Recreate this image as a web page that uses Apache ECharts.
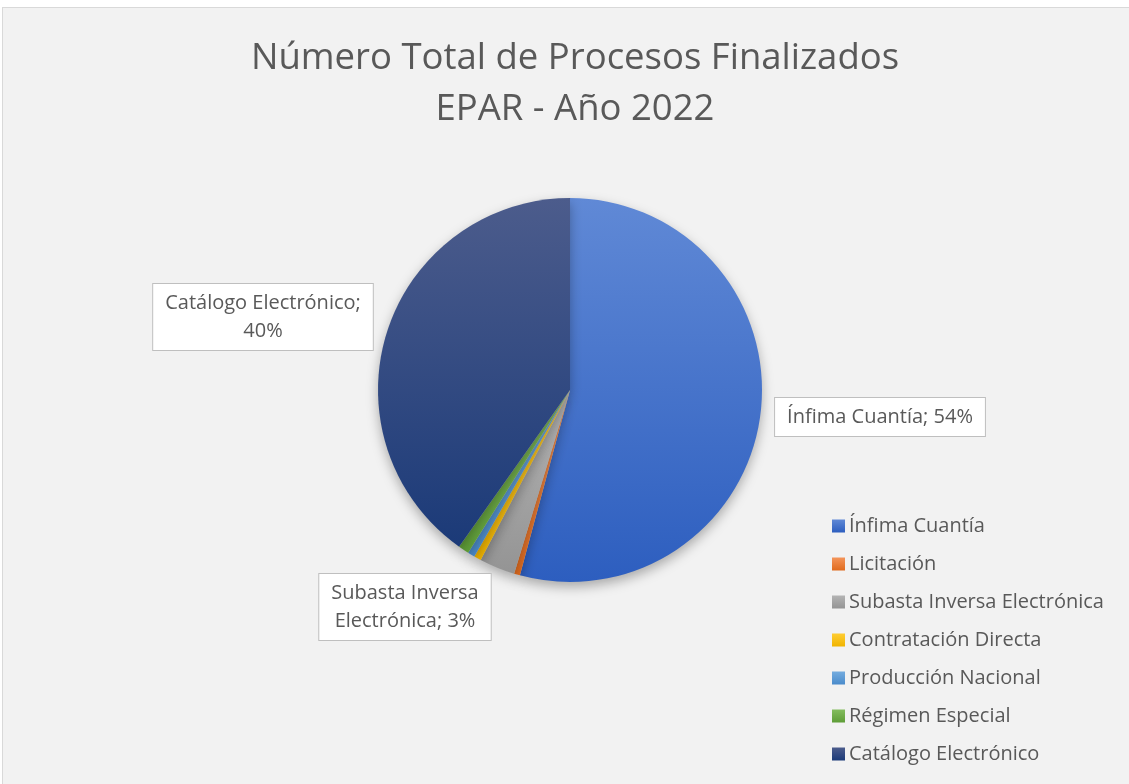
<!DOCTYPE html>
<html>
<head>
<meta charset="utf-8">
<script src="https://cdn.jsdelivr.net/npm/echarts@6/dist/echarts.min.js"></script>
<style>
  html, body { margin: 0; padding: 0; background: #ffffff; overflow: hidden; }
  #frame {
    position: absolute; left: 2px; top: 7px; width: 1140px; height: 800px;
    background: #f2f2f2; border: 1px solid #d9d9d9;
  }
  #chart { position: absolute; left: 0; top: 0; width: 1129px; height: 784px; }
</style>
</head>
<body>
<div id="frame"></div>
<div id="chart"></div>
<script>
// datos del gráfico
const categories = [
  'Ínfima Cuantía',
  'Licitación',
  'Subasta Inversa Electrónica',
  'Contratación Directa',
  'Producción Nacional',
  'Régimen Especial',
  'Catálogo Electrónico'
]
const shares = [54.2, 0.5, 3.0, 0.6, 0.6, 0.9, 40.2]
const showLabel = [true, false, true, false, false, false, true]

// colores (claro arriba, oscuro abajo)
const topColors = ['#6089d6', '#f4955a', '#b4b4b4', '#ffcd33', '#74acdf', '#84bd5e', '#4c5c8c']
const bottomColors = ['#2d5ebf', '#e06b1e', '#949494', '#f0b400', '#4a8bcb', '#5e9d37', '#1b3a78']

const textColor = '#595959'
const fontFamily = '"Open Sans", "Noto Sans", sans-serif'

// dónde va cada recuadro de etiqueta (centro del recuadro)
const calloutPos = {
  'Ínfima Cuantía': { x: 880, y: 417, text: '{b}; {d}%' },
  'Subasta Inversa Electrónica': { x: 405, y: 607, text: 'Subasta Inversa\nElectrónica; {d}%' },
  'Catálogo Electrónico': { x: 263, y: 317, text: '{b};\n{d}%' }
}

const chart = echarts.init(document.getElementById('chart'))

const grad = (i) => new echarts.graphic.LinearGradient(0, 0, 0, 1, [
  { offset: 0, color: topColors[i] },
  { offset: 1, color: bottomColors[i] }
])

const data = categories.map((name, i) => ({
  name,
  value: shares[i],
  itemStyle: { color: grad(i) },
  label: showLabel[i] ? { show: true, formatter: calloutPos[name].text } : { show: false }
}))

chart.setOption({
  animation: false,
  title: {
    text: 'Número Total de Procesos Finalizados\nEPAR - Año 2022',
    left: 570,
    top: 28,
    textAlign: 'center',
    textStyle: {
      color: textColor,
      fontFamily,
      fontSize: 36.5,
      fontWeight: 'normal',
      lineHeight: 51
    }
  },
  legend: {
    orient: 'vertical',
    left: 832,
    top: 515,
    padding: 0,
    icon: 'rect',
    itemWidth: 13,
    itemHeight: 13,
    itemGap: 16,
    textStyle: { color: textColor, fontFamily, fontSize: 20, lineHeight: 22, padding: [0, 0, 0, -1] },
    data: categories
  },
  series: [{
    type: 'pie',
    center: [570, 390],
    radius: 192,
    startAngle: 90,
    clockwise: true,
    percentPrecision: 0,
    avoidLabelOverlap: false,
    itemStyle: {
      borderWidth: 0,
      shadowBlur: 12,
      shadowOffsetY: 5,
      shadowColor: 'rgba(0,0,0,0.3)'
    },
    label: {
      position: 'outside',
      color: textColor,
      fontFamily,
      fontSize: 20,
      lineHeight: 28,
      backgroundColor: '#ffffff',
      borderColor: '#bfbfbf',
      borderWidth: 1,
      padding: [5, 12]
    },
    labelLine: { show: false },
    labelLayout: (p) => {
      const pos = calloutPos[categories[p.dataIndex]]
      if (!pos) return {}
      return { x: pos.x, y: pos.y, align: 'center', verticalAlign: 'middle' }
    },
    data
  }]
})
</script>
</body>
</html>
